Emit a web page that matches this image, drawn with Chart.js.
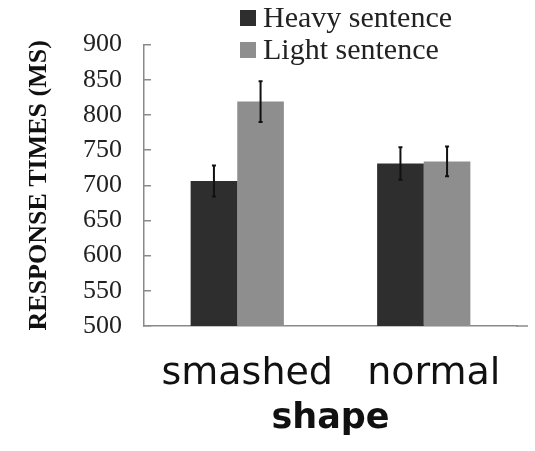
<!DOCTYPE html>
<html lang="en">
<head>
<meta charset="UTF-8">
<title>Response times by shape</title>
<script src="https://cdn.jsdelivr.net/npm/chart.js"></script>
<style>
    html, body {
        margin: 0;
        padding: 0;
        background: #fff;
    }
    .chart-box {
        width: 535px;
        height: 451px;
        position: relative;
    }
</style>
</head>
<body>
<div class="chart-box"><canvas id="rtChart"></canvas></div>
<script>
    // data
    const categories = ['smashed', 'normal'];
    const seriesNames = ['Heavy sentence', 'Light sentence'];
    const heavyValues = [706, 731];
    const lightValues = [819, 734];
    const heavyErrors = [22, 23];
    const lightErrors = [29, 21];
    const yTicks = [500, 550, 600, 650, 700, 750, 800, 850, 900];

    const seriesColors = ['#2e2e2e', '#8e8e8e'];
    const axisColor = '#8a8a8a';

    // error bars drawn from the y scale
    const errorBars = {
        id: 'errorBars',
        afterDatasetsDraw(chart) {
            const ctx = chart.ctx;
            const y = chart.scales.y;
            chart.data.datasets.forEach((ds, i) => {
                chart.getDatasetMeta(i).data.forEach((bar, j) => {
                    const v = ds.data[j], e = ds.errors[j];
                    const top = y.getPixelForValue(v + e);
                    const bot = y.getPixelForValue(v - e);
                    ctx.save();
                    ctx.strokeStyle = '#111';
                    ctx.lineWidth = 2;
                    ctx.beginPath();
                    ctx.moveTo(bar.x, top); ctx.lineTo(bar.x, bot);
                    ctx.moveTo(bar.x - 2, top); ctx.lineTo(bar.x + 2, top);
                    ctx.moveTo(bar.x - 2, bot); ctx.lineTo(bar.x + 2, bot);
                    ctx.stroke();
                    ctx.restore();
                });
            });
        }
    };

    // stacked legend top-centre + axis line running a bit past the last category
    const decor = {
        id: 'decor',
        afterDraw(chart) {
            const ctx = chart.ctx;
            const area = chart.chartArea;
            ctx.save();
            ctx.strokeStyle = axisColor;
            ctx.lineWidth = 1.5;
            ctx.beginPath();
            ctx.moveTo(area.right - 1, area.bottom);
            ctx.lineTo(area.right + 11, area.bottom);
            ctx.stroke();

            ctx.font = '30px "Liberation Serif", "Times New Roman", serif';
            ctx.textBaseline = 'middle';
            ctx.textAlign = 'left';
            chart.data.datasets.forEach((ds, i) => {
                const cy = 18 + i * 32;
                ctx.fillStyle = ds.backgroundColor;
                ctx.fillRect(240, cy - 8, 16, 16);
                ctx.fillStyle = '#222';
                ctx.fillText(ds.label, 263, cy + 1);
            });
            ctx.restore();
        }
    };

    const ctx = document.getElementById('rtChart').getContext('2d');
    const rtChart = new Chart(ctx, {
        type: 'bar',
        data: {
            labels: categories,
            datasets: [
                {
                    label: seriesNames[0],
                    data: heavyValues,
                    errors: heavyErrors,
                    backgroundColor: seriesColors[0],
                },
                {
                    label: seriesNames[1],
                    data: lightValues,
                    errors: lightErrors,
                    backgroundColor: seriesColors[1],
                }
            ]
        },
        options: {
            responsive: true,
            maintainAspectRatio: false,
            animation: false,
            layout: {
                padding: { top: 38, left: 0, right: 18, bottom: 0 }
            },
            datasets: {
                bar: { categoryPercentage: 0.5, barPercentage: 1 }
            },
            scales: {
                x: {
                    grid: { display: false },
                    border: { display: true, color: axisColor, width: 1.5 },
                    ticks: {
                        color: '#111',
                        font: { family: '"DejaVu Sans", sans-serif', size: 38 },
                        padding: 17,
                        labelOffset: 10,
                        maxRotation: 0,
                        autoSkip: false
                    },
                    title: {
                        display: true,
                        text: 'shape',
                        color: '#111',
                        font: { family: '"DejaVu Sans", sans-serif', size: 35, weight: 'bold' },
                        padding: { top: 0, bottom: 11 }
                    },
                    afterFit: (scale) => { scale.height = 125; }
                },
                y: {
                    min: 500,
                    max: 900,
                    afterBuildTicks: (scale) => {
                        scale.ticks = yTicks.map(v => ({ value: v }));
                    },
                    grid: {
                        drawOnChartArea: false,
                        drawTicks: true,
                        tickLength: -7,
                        color: axisColor,
                        lineWidth: 1.5
                    },
                    border: { display: true, color: axisColor, width: 1.5 },
                    ticks: {
                        color: '#222',
                        font: { family: '"Liberation Serif", "Times New Roman", serif', size: 26 },
                        padding: 29
                    },
                    title: {
                        display: true,
                        text: 'RESPONSE TIMES (MS)',
                        color: '#111',
                        font: { family: '"Liberation Serif", "Times New Roman", serif', size: 26, weight: 'bold' },
                        padding: { top: 24, bottom: 0 }
                    },
                    afterFit: (scale) => { scale.width = 144; }
                }
            },
            plugins: {
                legend: { display: false },
                tooltip: { enabled: false }
            }
        },
        plugins: [errorBars, decor]
    });
</script>
</body>
</html>
